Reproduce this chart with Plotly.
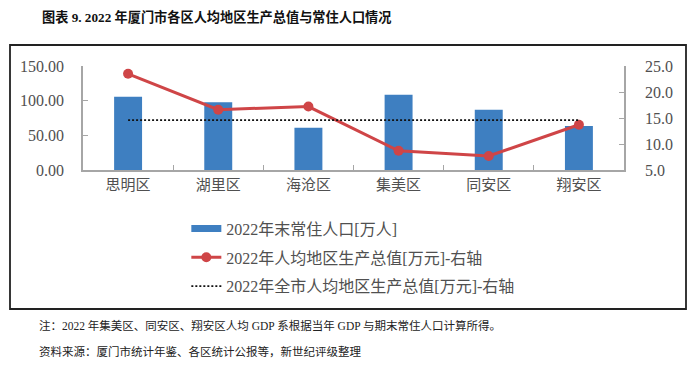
import plotly.graph_objects as go

districts = ["思明区", "湖里区", "海沧区", "集美区", "同安区", "翔安区"]
population = [105.8, 97.7, 61.0, 108.5, 87.0, 63.5]
gdp_per_capita = [23.5, 16.6, 17.2, 8.7, 7.7, 13.7]
city_avg = [14.6] * len(districts)

left_ticks = [0, 50, 100, 150]
right_ticks = [5, 10, 15, 20, 25]

SERIF = "Liberation Serif, 'Noto Sans CJK SC', serif"
CJK = "'Noto Sans CJK SC', 'Liberation Serif', sans-serif"

BLUE = "#3E7FC1"
RED = "#CF4547"

fig = go.Figure()
fig.add_trace(go.Bar(
    x=districts, y=population, name="2022年末常住人口[万人]",
    marker=dict(color=BLUE, line=dict(width=0)), width=0.31,
    showlegend=False, yaxis="y"))
# legend entry for the bar series (wide rectangle swatch like the reference)
fig.add_trace(go.Scatter(
    x=[None], y=[None], name="2022年末常住人口[万人]", mode="lines",
    line=dict(color=BLUE, width=7), legendgroup="a", yaxis="y"))
fig.add_trace(go.Scatter(
    x=districts, y=gdp_per_capita, name="2022年人均地区生产总值[万元]-右轴",
    mode="lines+markers", line=dict(color=RED, width=3),
    marker=dict(color=RED, size=10), legendgroup="b", yaxis="y2"))
fig.add_trace(go.Scatter(
    x=districts, y=city_avg, name="2022年全市人均地区生产总值[万元]-右轴",
    mode="lines", line=dict(color="#111111", width=1.8, dash="2px,2px"),
    legendgroup="c", yaxis="y2"))

axis_gray = "#A6A6A6"
tick_color = "#505050"

# page body has an 8px margin, so the figure is 692x359 and offset by 8px
fig.update_layout(
    width=692, height=359,
    margin=dict(l=75, r=76, t=58, b=197, autoexpand=False),
    paper_bgcolor="white", plot_bgcolor="white",
    showlegend=True,
    xaxis=dict(
        type="category", range=[-0.5, 5.5], showline=True, linecolor=axis_gray,
        linewidth=1.5, ticks="inside", ticklen=5, tickcolor=axis_gray,
        tickson="boundaries", showgrid=False, automargin=False,
        tickfont=dict(family=CJK, size=15, color=tick_color)),
    yaxis=dict(
        range=[0, 150], tickvals=left_ticks, tickformat=".2f",
        showline=True, linecolor=axis_gray, linewidth=1.5, ticks="inside",
        ticklen=5, tickcolor=axis_gray, showgrid=False, zeroline=False,
        ticklabelstandoff=14, automargin=False,
        tickfont=dict(family=SERIF, size=16, color=tick_color)),
    yaxis2=dict(
        range=[5, 25], tickvals=right_ticks, tickformat=".1f",
        overlaying="y", side="right",
        showline=True, linecolor=axis_gray, linewidth=1.5, ticks="inside",
        ticklen=5, tickcolor=axis_gray, showgrid=False, zeroline=False,
        ticklabelstandoff=16, automargin=False,
        tickfont=dict(family=SERIF, size=16, color=tick_color)),
    legend=dict(
        x=0.191, xanchor="left", y=-0.40, yanchor="top",
        orientation="v", tracegroupgap=5, traceorder="grouped",
        font=dict(family=SERIF, size=16, color=tick_color),
        bgcolor="rgba(0,0,0,0)"),
)

# outer frame
fig.add_shape(type="rect", xref="paper", yref="paper",
              x0=(10 - 83) / 541, x1=(686 - 83) / 541,
              y0=(170 - 309) / 104, y1=(170 - 45) / 104,
              line=dict(color="#222222", width=1.8), layer="below")

fig.add_annotation(
    text="<b>图表 9. 2022 年厦门市各区人均地区生产总值与常住人口情况</b>",
    xref="paper", yref="paper", x=(40 - 83) / 541, y=(170 - 17) / 104,
    xanchor="left", yanchor="middle", showarrow=False,
    font=dict(family=SERIF, size=13.2, color="#111111"))
fig.add_annotation(
    text="注：2022 年集美区、同安区、翔安区人均 GDP 系根据当年 GDP 与期末常住人口计算所得。",
    xref="paper", yref="paper", x=(37 - 83) / 541, y=(170 - 325) / 104,
    xanchor="left", yanchor="middle", showarrow=False,
    font=dict(family=SERIF, size=11.5, color="#222222"))
fig.add_annotation(
    text="资料来源：厦门市统计年鉴、各区统计公报等，新世纪评级整理",
    xref="paper", yref="paper", x=(37 - 83) / 541, y=(170 - 351) / 104,
    xanchor="left", yanchor="middle", showarrow=False,
    font=dict(family=SERIF, size=11.5, color="#222222"))

fig.write_html("out.html")
